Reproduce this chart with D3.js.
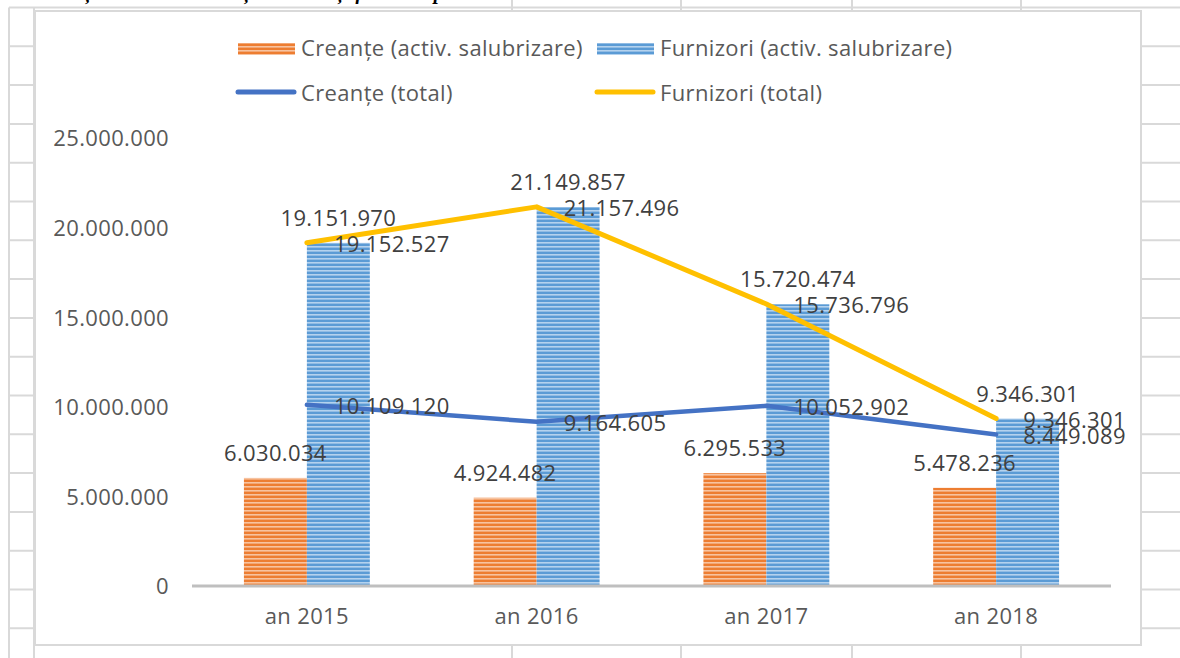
<!DOCTYPE html>
<html>
<head>
<meta charset="utf-8">
<script src="https://cdn.jsdelivr.net/npm/d3@7"></script>
<style>
  html, body { margin: 0; padding: 0; background: #ffffff; }
  svg { display: block; }
</style>
</head>
<body>
<svg id="chart" width="1180" height="658"></svg>
<script>
// ---- data ----
const categories = ["an 2015", "an 2016", "an 2017", "an 2018"];
const creanteSalubrizare = [6030034, 4924482, 6295533, 5478236];
const furnizoriSalubrizare = [19151970, 21149857, 15720474, 9346301];
const creanteTotal = [10109120, 9164605, 10052902, 8449089];
const furnizoriTotal = [19152527, 21157496, 15736796, 9346301];
const yTicks = [0, 5000000, 10000000, 15000000, 20000000, 25000000];
const seriesNames = [
  "Creanțe (activ. salubrizare)",
  "Furnizori (activ. salubrizare)",
  "Creanțe (total)",
  "Furnizori (total)"
];
const heading = "Evoluția soldurilor creanțelor totale și furnizori pe anii 2015-2018";

// ---- layout ----
const W = 1180, H = 658;
const box = { x: 35, y: 11, w: 1106, h: 634 };
const plot = { left: 192, right: 1111, top: 138, bottom: 586 };
const FONT = "'Open Sans', sans-serif";
const FONT_SIZE = 22;
const SPACING = 0.35;
const TEXT_GRAY = "#595959";
const LABEL_GRAY = "#404040";

const ro = d3.formatLocale({ decimal: ",", thousands: ".", grouping: [3], currency: ["", " lei"] });
const fmt = ro.format(",d");

const svg = d3.select("#chart");

// ---- worksheet grid behind the chart ----
const sheet = svg.append("g").attr("stroke", "#d9d9d9").attr("stroke-width", 2);
const rowLines = d3.range(0, 17).map(k => 7.5 + 38.8 * k);
sheet.selectAll("line.row").data(rowLines).join("line")
  .attr("x1", 9).attr("x2", W).attr("y1", d => d).attr("y2", d => d);
const colLines = [9, 34, 512, 681, 852, 1021];
sheet.selectAll("line.col").data(colLines).join("line")
  .attr("x1", d => d).attr("x2", d => d).attr("y1", d => (d <= 34 ? 7.5 : 0)).attr("y2", H);

// cell text above the chart (only its descenders reach into view)
svg.append("text")
  .attr("x", 36).attr("y", -0.8)
  .attr("font-family", "'Liberation Serif', serif")
  .attr("font-weight", "bold").attr("font-style", "italic")
  .attr("font-size", 20).attr("fill", "#000")
  .text(heading);

// ---- chart area ----
svg.append("rect")
  .attr("x", box.x).attr("y", box.y).attr("width", box.w).attr("height", box.h)
  .attr("fill", "#ffffff").attr("stroke", "#d9d9d9").attr("stroke-width", 2);

// striped fills for the columns
const defs = svg.append("defs");
function stripes(id, base, light) {
  const p = defs.append("pattern").attr("id", id)
    .attr("patternUnits", "userSpaceOnUse").attr("width", 8).attr("height", 4);
  p.append("rect").attr("width", 8).attr("height", 4).attr("fill", base);
  p.append("rect").attr("y", 2).attr("width", 8).attr("height", 1.6).attr("fill", light);
}
stripes("stripeOrange", "#ED7D31", "#F7C3A0");
stripes("stripeBlue", "#5B9BD5", "#B4D2EE");

// ---- scales ----
const x0 = d3.scaleBand().domain(categories)
  .range([plot.left, plot.right]).paddingInner(0.452).paddingOuter(0.226);
const x1 = d3.scaleBand().domain([0, 1]).range([0, x0.bandwidth()]);
const y = d3.scaleLinear().domain([0, 25000000]).range([plot.bottom, plot.top]);
const cx = c => x0(c) + x0.bandwidth() / 2;

function styleText(sel, color) {
  sel.attr("font-family", FONT).attr("font-size", FONT_SIZE)
    .attr("letter-spacing", SPACING).attr("fill", color);
}

// ---- y axis labels ----
const yAxis = d3.axisLeft(y).tickValues(yTicks).tickFormat(fmt).tickSize(0).tickPadding(0);
const yG = svg.append("g").attr("transform", "translate(169,0)").call(yAxis);
yG.select(".domain").remove();
yG.selectAll("text").call(styleText, TEXT_GRAY).attr("dy", "0.36em");

// ---- columns ----
const barSeries = [
  { values: creanteSalubrizare, fill: "url(#stripeOrange)", idx: 0 },
  { values: furnizoriSalubrizare, fill: "url(#stripeBlue)", idx: 1 }
];
const barsG = svg.append("g");
barSeries.forEach(s => {
  barsG.selectAll(null).data(categories).join("rect")
    .attr("x", (c) => x0(c) + x1(s.idx))
    .attr("width", x1.bandwidth())
    .attr("y", (c, i) => y(s.values[i]))
    .attr("height", (c, i) => y(0) - y(s.values[i]))
    .attr("fill", s.fill);
});

// ---- x axis ----
const xAxis = d3.axisBottom(x0).tickSize(0).tickPadding(0);
const xG = svg.append("g").attr("transform", `translate(0,${plot.bottom})`).call(xAxis);
xG.select(".domain").remove();
svg.append("line")
  .attr("x1", plot.left).attr("x2", plot.right)
  .attr("y1", plot.bottom).attr("y2", plot.bottom)
  .attr("stroke", "#BFBFBF").attr("stroke-width", 3);
xG.selectAll("text").call(styleText, TEXT_GRAY).attr("dy", 0).attr("y", 38);

// ---- lines ----
const lineSeries = [
  { values: creanteTotal, color: "#4472C4", width: 4.5 },
  { values: furnizoriTotal, color: "#FFC000", width: 5 }
];
const lineGen = d3.line().x(d => cx(d.c)).y(d => y(d.v));
lineSeries.forEach(s => {
  svg.append("path")
    .datum(categories.map((c, i) => ({ c, v: s.values[i] })))
    .attr("d", lineGen)
    .attr("fill", "none").attr("stroke", s.color).attr("stroke-width", s.width)
    .attr("stroke-linejoin", "round").attr("stroke-linecap", "round");
});

// ---- data labels ----
const labelsG = svg.append("g").call(styleText, LABEL_GRAY);
barSeries.forEach(s => {
  labelsG.selectAll(null).data(categories).join("text")
    .attr("x", c => x0(c) + x1(s.idx) + x1.bandwidth() / 2)
    .attr("y", (c, i) => y(s.values[i]) - 17)
    .attr("text-anchor", "middle")
    .text((c, i) => fmt(s.values[i]));
});
lineSeries.forEach(s => {
  labelsG.selectAll(null).data(categories).join("text")
    .attr("x", c => cx(c) + 27)
    .attr("y", (c, i) => y(s.values[i]) + 9.5)
    .attr("text-anchor", "start")
    .text((c, i) => fmt(s.values[i]));
});

// ---- legend ----
const legend = svg.append("g").call(styleText, TEXT_GRAY);
const legendItems = [
  { name: seriesNames[0], kind: "bar", fill: "url(#stripeOrange)", x: 238, y: 56 },
  { name: seriesNames[1], kind: "bar", fill: "url(#stripeBlue)", x: 597, y: 56 },
  { name: seriesNames[2], kind: "line", color: "#4472C4", x: 238, y: 101 },
  { name: seriesNames[3], kind: "line", color: "#FFC000", x: 597, y: 101 }
];
legendItems.forEach(it => {
  if (it.kind === "bar") {
    legend.append("rect").attr("x", it.x).attr("y", it.y - 13)
      .attr("width", 57).attr("height", 12).attr("fill", it.fill);
  } else {
    legend.append("line").attr("x1", it.x).attr("x2", it.x + 56)
      .attr("y1", it.y - 9).attr("y2", it.y - 9)
      .attr("stroke", it.color).attr("stroke-width", 5).attr("stroke-linecap", "round");
  }
  legend.append("text").attr("x", it.x + 63).attr("y", it.y).text(it.name);
});
</script>
</body>
</html>
